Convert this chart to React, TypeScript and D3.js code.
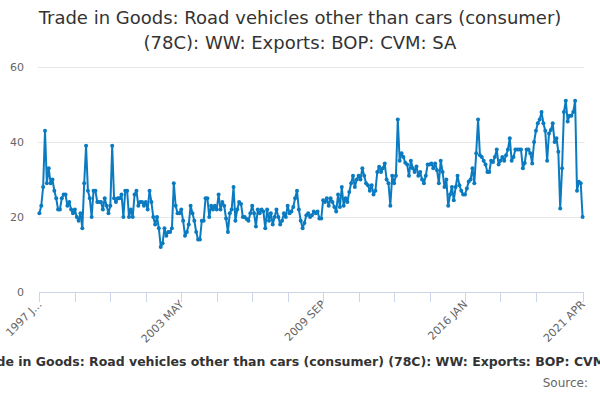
import { useEffect, useRef } from 'react';
import * as d3 from 'd3';

// Monthly values, 1997 JAN .. 2021 APR (one row per year)
const values: number[] = [
  21, 23, 28, 43, 29, 33, 29, 30, 27, 25, 22, 22,
  25, 26, 26, 23, 24, 22, 21, 22, 20, 19, 21, 17,
  29, 39, 27, 25, 20, 27, 27, 24, 24, 24, 22, 25,
  23, 21, 23, 39, 25, 24, 25, 25, 26, 20, 27, 27,
  20, 22, 20, 26, 27, 23, 24, 24, 23, 24, 22, 27,
  24, 20, 18, 20, 17, 12, 13, 17, 15, 16, 16, 17,
  29, 23, 21, 21, 22, 19, 15, 16, 18, 23, 21, 19,
  16, 14, 14, 19, 19, 25, 25, 20, 23, 22, 23, 22,
  26, 22, 24, 23, 19.6, 16, 21, 22, 28, 19, 22, 24,
  23.5, 20, 20, 19.5, 19, 21, 23, 21, 17.5, 22, 21, 22,
  21.5, 17, 22, 19, 21, 18, 20, 22, 20, 18, 19, 21,
  20, 23, 21, 21.5, 22.7, 25, 27, 22, 19, 17, 18.4, 20.5,
  21, 20, 20.5, 21.5, 21, 21.5, 19.6, 19.6, 24.5, 24, 25, 23,
  25, 24, 22.7, 21.5, 26, 22.7, 28, 23, 25, 24, 26.7, 29,
  31, 28, 30, 31, 30, 33, 31, 29, 28.5, 27, 28.5, 26,
  27, 32, 33.4, 32, 33, 34.3, 30, 29, 23, 31, 29, 31,
  46, 35, 37, 36, 34.5, 34, 31, 35, 33, 32, 33.5, 31,
  32, 30, 29, 31, 34, 34, 34.3, 33, 34.3, 32.5, 29, 35,
  32, 28, 30, 23, 26, 28, 24.5, 28, 31, 28.5, 27, 26,
  26, 27.6, 29.5, 30, 33, 29, 37, 46, 36.5, 36, 35, 34,
  32, 32, 35, 34.7, 36, 38, 34, 35, 36, 35, 36.5, 38,
  41, 35, 36, 38, 38, 38, 38, 33, 34.4, 38, 38, 37,
  34.3, 40, 43, 45, 46, 48, 45, 43, 35, 42.3, 43.2, 45,
  40, 41, 37.4, 22.3, 33, 48, 51, 45.5, 47, 47, 48, 51,
  27, 29.4, 29, 20,
];

const yTicks = [0, 20, 40, 60];
const xTickIndex = [0, 19, 38, 57, 76, 95, 114, 133, 152, 171, 190, 209, 228, 247, 266, 291];
const xLabelIndex = [0, 76, 152, 228, 291];
const xLabels = ['1997 J...', '2003 MAY', '2009 SEP', '2016 JAN', '2021 APR'];

const titleLines = [
  'Trade in Goods: Road vehicles other than cars (consumer)',
  '(78C): WW: Exports: BOP: CVM: SA',
];
const captionText = 'Trade in Goods: Road vehicles other than cars (consumer) (78C): WW: Exports: BOP: CVM: SA';
const sourceText = 'Source:';

const FONT = '"DejaVu Sans", sans-serif';
const LINE = '#0a7bc0';

export default function App() {
  const svgRef = useRef<SVGSVGElement>(null);

  useEffect(() => {
    if (!svgRef.current) return;
    const svg = d3.select(svgRef.current);
    svg.selectAll('*').remove();

    const width = 600;
    const height = 400;
    svg.attr('width', width).attr('height', height);

    const x = d3.scaleLinear().domain([0, values.length - 1]).range([39.4, 582.6]);
    const y = d3.scaleLinear().domain([0, 60]).range([292, 67]);

    // Title
    titleLines.forEach((t, i) => {
      svg.append('text')
        .attr('x', width / 2)
        .attr('y', 24 + i * 25)
        .attr('text-anchor', 'middle')
        .attr('fill', '#333333')
        .attr('font-family', FONT)
        .attr('font-size', '18px')
        .text(t);
    });

    // Grid lines
    svg.append('g')
      .selectAll('line')
      .data(yTicks.filter(d => d > 0))
      .join('line')
      .attr('x1', 38)
      .attr('x2', 584)
      .attr('y1', d => y(d) + 0.5)
      .attr('y2', d => y(d) + 0.5)
      .attr('stroke', '#e6e6e6')
      .attr('stroke-width', 1);

    // Y labels
    svg.append('g')
      .selectAll('text')
      .data(yTicks)
      .join('text')
      .attr('x', 24)
      .attr('y', d => y(d) + 4)
      .attr('text-anchor', 'end')
      .attr('fill', '#666666')
      .attr('font-family', FONT)
      .attr('font-size', '11px')
      .text(d => d);

    // X axis line and ticks
    svg.append('line')
      .attr('x1', x(0))
      .attr('x2', x(values.length - 1) + 0.5)
      .attr('y1', 292.5)
      .attr('y2', 292.5)
      .attr('stroke', '#ccd6eb');

    svg.append('g')
      .selectAll('line')
      .data(xTickIndex)
      .join('line')
      .attr('x1', d => Math.round(x(d)) + 0.5)
      .attr('x2', d => Math.round(x(d)) + 0.5)
      .attr('y1', 292)
      .attr('y2', 302)
      .attr('stroke', '#ccd6eb');

    svg.append('g')
      .selectAll('text')
      .data(xLabelIndex)
      .join('text')
      .attr('transform', d => `translate(${x(d) + 3},${305}) rotate(-45)`)
      .attr('text-anchor', 'end')
      .attr('fill', '#666666')
      .attr('font-family', FONT)
      .attr('font-size', '11px')
      .text((_, i) => xLabels[i]);

    // Series
    const line = d3.line<number>()
      .x((_, i) => x(i))
      .y(d => y(d));

    svg.append('path')
      .datum(values)
      .attr('fill', 'none')
      .attr('stroke', LINE)
      .attr('stroke-width', 2)
      .attr('stroke-linejoin', 'round')
      .attr('d', line);

    svg.append('g')
      .selectAll('circle')
      .data(values)
      .join('circle')
      .attr('cx', (_, i) => x(i))
      .attr('cy', d => y(d))
      .attr('r', 2)
      .attr('fill', LINE);

    // Caption (wider than the chart, clipped at both edges as in the original) and source
    svg.append('text')
      .attr('x', width / 2 + 4)
      .attr('y', 366)
      .attr('text-anchor', 'middle')
      .attr('fill', '#333333')
      .attr('font-family', FONT)
      .attr('font-size', '12.5px')
      .attr('font-weight', 'bold')
      .text(captionText);

    svg.append('text')
      .attr('x', 588)
      .attr('y', 387)
      .attr('text-anchor', 'end')
      .attr('fill', '#666666')
      .attr('font-family', FONT)
      .attr('font-size', '12px')
      .text(sourceText);
  }, []);

  return (
    <div style={{ position: 'fixed', left: 0, top: 0, width: 600, height: 400, background: '#ffffff' }}>
      <svg ref={svgRef} style={{ display: 'block' }} />
    </div>
  );
}
